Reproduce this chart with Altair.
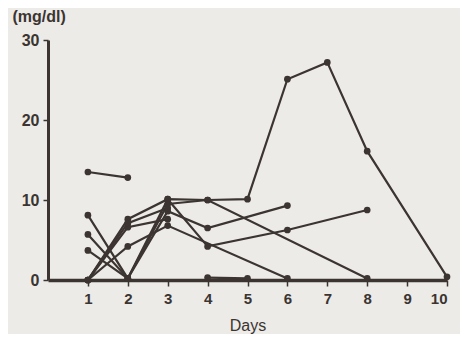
import altair as alt
import pandas as pd

# Each patient series: days and values (mg/dl)
series_ids = ["A", "B", "C", "D", "E", "F", "G", "H", "I"]
series_days = [
    [1, 2],
    [1, 2, 3, 4, 6, 8],
    [1, 2, 3, 4, 5, 6, 7, 8, 10],
    [1, 2, 3, 4, 6],
    [1, 2, 3, 4, 8],
    [1, 2, 3, 6],
    [1, 2, 3],
    [4, 5],
    [1, 2, 3],
]
series_values = [
    [13.5, 12.8],
    [8.1, 0.2, 10.1, 4.2, 6.25, 8.75],
    [5.7, 0.2, 9.5, 10.0, 10.1, 25.1, 27.2, 16.1, 0.4],
    [3.7, 0.2, 8.6, 6.5, 9.3],
    [0.0, 7.6, 10.1, 10.0, 0.2],
    [0.0, 4.2, 6.8, 0.2],
    [0.0, 6.6, 7.6],
    [0.3, 0.2],
    [0.0, 7.1, 9.0],
]

rows = []
for sid, days, vals in zip(series_ids, series_days, series_values):
    for i, (d, v) in enumerate(zip(days, vals)):
        rows.append({"id": sid, "day": d, "value": v, "order": i})
df = pd.DataFrame(rows)

ink = "#3b3431"
font = "Liberation Sans"

x = alt.X(
    "day:Q",
    scale=alt.Scale(domain=[0, 10], nice=False, zero=True),
    axis=alt.Axis(
        values=[1, 2, 3, 4, 5, 6, 7, 8, 9, 10],
        title="Days",
        titleFontSize=16,
        titleFontWeight="normal",
        titleFont=font,
        titleColor=ink,
        titlePadding=11,
        labelFontSize=15,
        labelFontWeight="bold",
        labelFont=font,
        labelColor=ink,
        labelPadding=5,
        tickSize=6,
        tickWidth=1.5,
        tickColor=ink,
        domainColor=ink,
        domainWidth=3.5,
        grid=False,
    ),
)
y = alt.Y(
    "value:Q",
    scale=alt.Scale(domain=[0, 30], nice=False),
    axis=alt.Axis(
        values=[0, 10, 20, 30],
        title="(mg/dl)",
        titleAngle=0,
        titleAlign="left",
        titleBaseline="alphabetic",
        titleX=-36,
        titleY=-19,
        titleFontSize=16,
        titleFontWeight="bold",
        titleFont=font,
        titleColor=ink,
        labelFontSize=16,
        labelFontWeight="bold",
        labelFont=font,
        labelColor=ink,
        labelPadding=4,
        tickSize=5,
        tickWidth=1.5,
        tickColor=ink,
        domainColor=ink,
        domainWidth=3,
        grid=False,
    ),
)

base = alt.Chart(df)
lines = base.mark_line(color=ink, strokeWidth=2.2).encode(
    x=x, y=y, detail="id:N", order="order:Q"
)
points = base.mark_point(filled=True, color=ink, size=45, opacity=1).encode(
    x="day:Q", y="value:Q"
)

chart = (
    alt.layer(lines, points)
    .properties(
        width=399,
        height=240,
        background="#ecebe8",
        autosize=alt.AutoSizeParams(type="none"),
        padding={"left": 40, "top": 32, "right": 13, "bottom": 54},
    )
    .configure_view(stroke=None)
)

chart.save("out.html", embed_options={"renderer": "svg", "actions": False})
